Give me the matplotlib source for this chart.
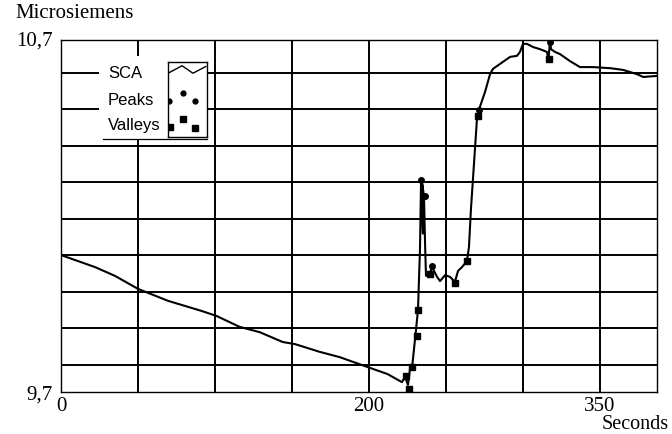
import numpy as np
import matplotlib
matplotlib.use('Agg')
import matplotlib.pyplot as plt
from matplotlib.patches import Rectangle

# Data (seconds, microsiemens)
sca_t = [0, 22, 35, 50, 69.5, 91.5, 101, 116, 129, 144, 152, 168, 181, 199, 212, 221.4,
         223.4, 225.3, 226.6, 228, 229.9, 231.8, 233.1, 233.8, 234.4, 235, 234.6, 235.7, 236.4,
         237, 239.6, 240.9, 242.2, 244.2, 246.1, 249.4, 252.6, 255.8, 257.8, 260.4, 263.6,
         264.9, 266.2, 267.5, 268.8, 270.1, 272, 275.3, 278.6, 280.5, 287, 291.6, 296.1,
         298, 300, 302.6, 306.5, 311, 315.6, 316.5, 317.5, 318.2, 320.8, 324, 330.5, 337,
         345.5, 356.5, 365, 374, 378, 387]
sca_v = [10.089, 10.055, 10.030, 9.993, 9.959, 9.930, 9.916, 9.885, 9.870, 9.842, 9.836,
         9.814, 9.799, 9.771, 9.751, 9.728, 9.743, 9.720, 9.765, 9.771, 9.851, 9.933, 10.106,
         10.302, 10.280, 10.150, 10.290, 10.257, 10.120, 10.030, 10.035, 10.058, 10.044,
         10.027, 10.015, 10.032, 10.027, 10.013, 10.044, 10.055, 10.072, 10.112, 10.220,
         10.305, 10.390, 10.476, 10.510, 10.552, 10.603, 10.618, 10.638, 10.652, 10.655,
         10.666, 10.689, 10.689, 10.680, 10.674, 10.666, 10.640, 10.698, 10.674, 10.666,
         10.660, 10.640, 10.623, 10.623, 10.620, 10.615, 10.603, 10.595, 10.598]

peaks_t = [233.8, 236.4, 240.9, 271.5, 317.5]
peaks_v = [10.302, 10.257, 10.058, 10.500, 10.695]
valleys_t = [226.0, 223.8, 228.0, 231.2, 231.8, 239.6, 256.0, 263.6, 270.6, 316.9]
valleys_v = [9.709, 9.745, 9.772, 9.859, 9.933, 10.035, 10.010, 10.072, 10.485, 10.646]

x_grid = [50, 100, 150, 200, 250, 300, 350]
y_grid = 9.777 + 0.1037 * np.arange(9)
x_ticks = [0, 200, 350]
y_ticks = [9.7, 10.7]
y_ticklabels = ['9,7', '10,7']
legend_labels = ['SCA', 'Peaks', 'Valleys']

serif = 'Liberation Serif'
sans = 'Liberation Sans'

fig = plt.figure(figsize=(6.72, 4.35), dpi=100)
ax = fig.add_axes([61/672, 1-393/435, 596/672, 352/435])

for x in x_grid:
    ax.axvline(x, color='black', lw=1.4, zorder=1)
for y in y_grid:
    ax.axhline(y, color='black', lw=1.4, zorder=1)

ax.plot(sca_t, sca_v, color='black', lw=1.5, zorder=2)
ax.plot(peaks_t, peaks_v, 'o', color='black', ms=4, zorder=4)
ax.plot(valleys_t, valleys_v, 's', color='black', ms=4.5, zorder=4)

ax.set_xlim(0, 387)
ax.set_ylim(9.7, 10.7)
ax.set_xticks(x_ticks)
ax.set_xticklabels([str(t) for t in x_ticks], fontfamily=serif, fontsize=15)
ax.set_yticks(y_ticks)
ax.set_yticklabels(y_ticklabels, fontfamily=serif, fontsize=15)
ax.tick_params(axis='x', length=0, pad=3)
ax.tick_params(axis='y', length=0, pad=6)
ax.yaxis.get_ticklabels()[1].set_verticalalignment('center')
for s in ax.spines.values():
    s.set_linewidth(1.0)

# legend, drawn by hand like the original
ax.add_patch(Rectangle((0.0638, 0.7188), 0.181, 0.236, transform=ax.transAxes,
                       facecolor='white', edgecolor='none', zorder=3))
ax.plot([0.0705, 0.245], [0.7188, 0.7188], transform=ax.transAxes, color='black',
        lw=0.9, zorder=3)
for lab, yy in zip(legend_labels, [0.909, 0.832, 0.761]):
    ax.text(0.079, yy, lab, transform=ax.transAxes, fontfamily=sans, fontsize=12,
            va='center', ha='left', zorder=5)

lax = fig.add_axes([168/672, 1-138/435, 39/672, 75/435])
lax.set_xlim(0, 1)
lax.set_ylim(0, 1)
lax.set_xticks([])
lax.set_yticks([])
for s in lax.spines.values():
    s.set_linewidth(1.0)
lax.plot([0.0, 0.36, 0.64, 0.97], [0.85, 0.95, 0.85, 0.94], color='black', lw=1.0)
lax.plot([0.02, 0.38, 0.69], [0.48, 0.59, 0.48], 'o', color='black', ms=3.5)
lax.plot([0.04, 0.38, 0.69], [0.13, 0.24, 0.12], 's', color='black', ms=4)

fig.text(15/672, 1-4/435, 'Microsiemens', fontfamily=serif, fontsize=15, va='top', ha='left')
fig.text(0.995, 0.003, 'Seconds', fontfamily=serif, fontsize=14.5, va='bottom', ha='right')

fig.savefig('out.png', dpi=100)
